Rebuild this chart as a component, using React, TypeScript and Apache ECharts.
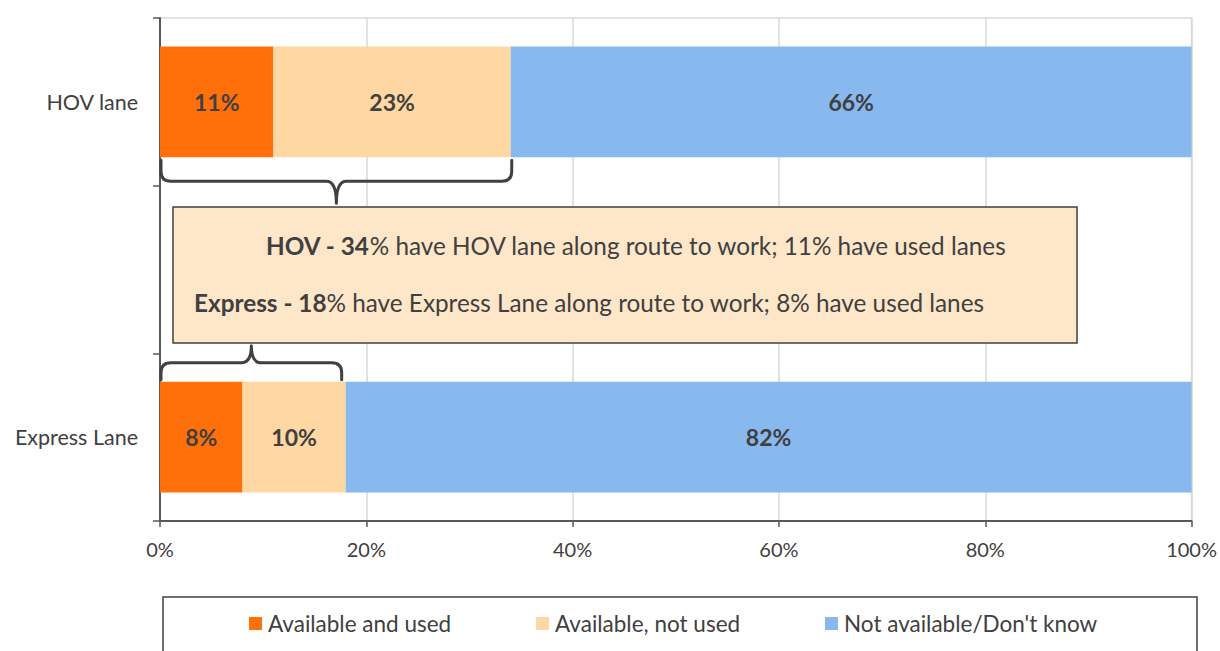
import React, { useEffect, useRef } from "react";
import * as echarts from "echarts";

const categories = ["HOV lane", "", "Express Lane"];
const availableUsed = [11, null, 8];
const availableNotUsed = [23, null, 10];
const notAvailable = [66, null, 82];
const seriesNames = ["Available and used", "Available, not used", "Not available/Don't know"];
const seriesColors = ["#FF700A", "#FFD7A3", "#87B8EE"];
const hovTotal = 34;
const expressTotal = 18;
const calloutLine1 = "{b|HOV - 34}% have HOV lane along route to work; 11% have used lanes";
const calloutLine2 = "{b|Express - 18}% have Express Lane along route to work; 8% have used lanes";

const FONT = "Lato, 'Open Sans', sans-serif";
const TEXT = "#404040";

const BraceShape = (echarts.graphic as any).extendShape({
  type: "brace",
  shape: { x1: 0, x2: 0, yEnd: 0, yMid: 0, yTip: 0, r: 10 },
  buildPath(ctx: any, s: any) {
    const xc = (s.x1 + s.x2) / 2;
    const d = s.yMid > s.yEnd ? 1 : -1;
    const r = s.r;
    ctx.moveTo(s.x1, s.yEnd);
    ctx.lineTo(s.x1, s.yMid - d * r);
    ctx.quadraticCurveTo(s.x1, s.yMid, s.x1 + r, s.yMid);
    ctx.lineTo(xc - r, s.yMid);
    ctx.quadraticCurveTo(xc, s.yMid, xc, s.yTip);
    ctx.moveTo(xc, s.yTip);
    ctx.quadraticCurveTo(xc, s.yMid, xc + r, s.yMid);
    ctx.lineTo(s.x2 - r, s.yMid);
    ctx.quadraticCurveTo(s.x2, s.yMid, s.x2, s.yMid - d * r);
    ctx.lineTo(s.x2, s.yEnd);
  },
});
(echarts.graphic as any).registerShape("brace", BraceShape);

export default function App() {
  const ref = useRef<HTMLDivElement>(null);
  useEffect(() => {
    document.body.style.margin = "0";
    const chart = echarts.init(ref.current!, null, { renderer: "svg" });
    const mkSeries = (i: number, data: (number | null)[]) => ({
      name: seriesNames[i],
      type: "bar",
      stack: "total",
      barWidth: "66%",
      data,
      itemStyle: { color: seriesColors[i] },
      label: {
        show: true,
        position: "inside",
        formatter: "{c}%",
        fontFamily: FONT,
        fontWeight: "bold",
        fontSize: 23,
        color: TEXT,
      },
    });
    const legendLefts = [249, 536, 825];
    chart.setOption({
      animation: false,
      textStyle: { fontFamily: FONT },
      grid: { left: 160, right: 28, top: 18, bottom: 130, show: true, borderColor: "#d9d9d9", borderWidth: 1.5 },
      legend: seriesNames.map((n, i) => ({
        data: [n],
        left: legendLefts[i],
        top: 612,
        padding: 0,
        itemWidth: 13,
        itemHeight: 13,
        icon: "rect",
        itemGap: 6,
        textStyle: { fontFamily: FONT, fontSize: 22.5, color: TEXT, padding: [0, 0, 0, 1] },
      })),
      xAxis: {
        type: "value",
        min: 0,
        max: 100,
        interval: 20,
        axisLine: { show: true, lineStyle: { color: "#595959", width: 2 } },
        axisTick: { show: true, length: 6, lineStyle: { color: "#595959", width: 1.5 } },
        splitLine: { show: true, lineStyle: { color: "#d9d9d9", width: 1.5 } },
        axisLabel: { formatter: "{value}%", fontFamily: FONT, fontSize: 20, color: TEXT, margin: 18 },
      },
      yAxis: {
        type: "category",
        inverse: true,
        data: categories,
        axisLine: { show: true, lineStyle: { color: "#595959", width: 2 } },
        axisTick: { show: true, length: 7, lineStyle: { color: "#595959", width: 1.5 } },
        axisLabel: { fontFamily: FONT, fontSize: 21.5, color: TEXT, margin: 22 },
      },
      series: [mkSeries(0, availableUsed), mkSeries(1, availableNotUsed), mkSeries(2, notAvailable)],
    });

    const p0 = chart.convertToPixel({ gridIndex: 0 }, [0, 0]) as number[];
    const p2 = chart.convertToPixel({ gridIndex: 0 }, [0, 2]) as number[];
    const band = (p2[1] - p0[1]) / 2;
    const half = band * 0.33;
    const xHov = (chart.convertToPixel({ gridIndex: 0 }, [hovTotal, 0]) as number[])[0];
    const xExp = (chart.convertToPixel({ gridIndex: 0 }, [expressTotal, 2]) as number[])[0];
    const hovEnd = p0[1] + half + 3;
    const expEnd = p2[1] - half - 2;
    const braceStyle = { fill: "none", stroke: "#404040", lineWidth: 3, lineCap: "round", lineJoin: "round" };
    const rich = { b: { fontFamily: FONT, fontSize: 24.3, fontWeight: "bold", fill: TEXT, color: TEXT } };

    chart.setOption({
      graphic: [
        {
          type: "brace",
          z: 10,
          shape: { x1: p0[0] + 1, x2: xHov + 1, yEnd: hovEnd, yMid: hovEnd + 21, yTip: hovEnd + 43, r: 10 },
          style: braceStyle,
        },
        {
          type: "brace",
          z: 10,
          shape: { x1: p2[0] + 1, x2: xExp - 4, yEnd: expEnd, yMid: expEnd - 17, yTip: expEnd - 34, r: 10 },
          style: braceStyle,
        },
        {
          type: "rect",
          z: 11,
          shape: { x: 173, y: 207, width: 904, height: 136 },
          style: { fill: "#FEE6C8", stroke: "#404040", lineWidth: 1.5 },
        },
        {
          type: "text",
          z: 12,
          style: {
            x: 266,
            y: 245,
            text: calloutLine1,
            fontFamily: FONT,
            fontSize: 24.3,
            fill: TEXT,
            verticalAlign: "middle",
            rich,
          },
        },
        {
          type: "text",
          z: 12,
          style: {
            x: 194,
            y: 302,
            text: calloutLine2,
            fontFamily: FONT,
            fontSize: 24.3,
            fill: TEXT,
            verticalAlign: "middle",
            rich,
          },
        },
        {
          type: "rect",
          z: 5,
          shape: { x: 163, y: 597, width: 1034, height: 80 },
          style: { fill: "none", stroke: "#404040", lineWidth: 1.5 },
        },
      ],
    });
    return () => chart.dispose();
  }, []);
  return <div ref={ref} style={{ width: 1220, height: 651 }} />;
}
